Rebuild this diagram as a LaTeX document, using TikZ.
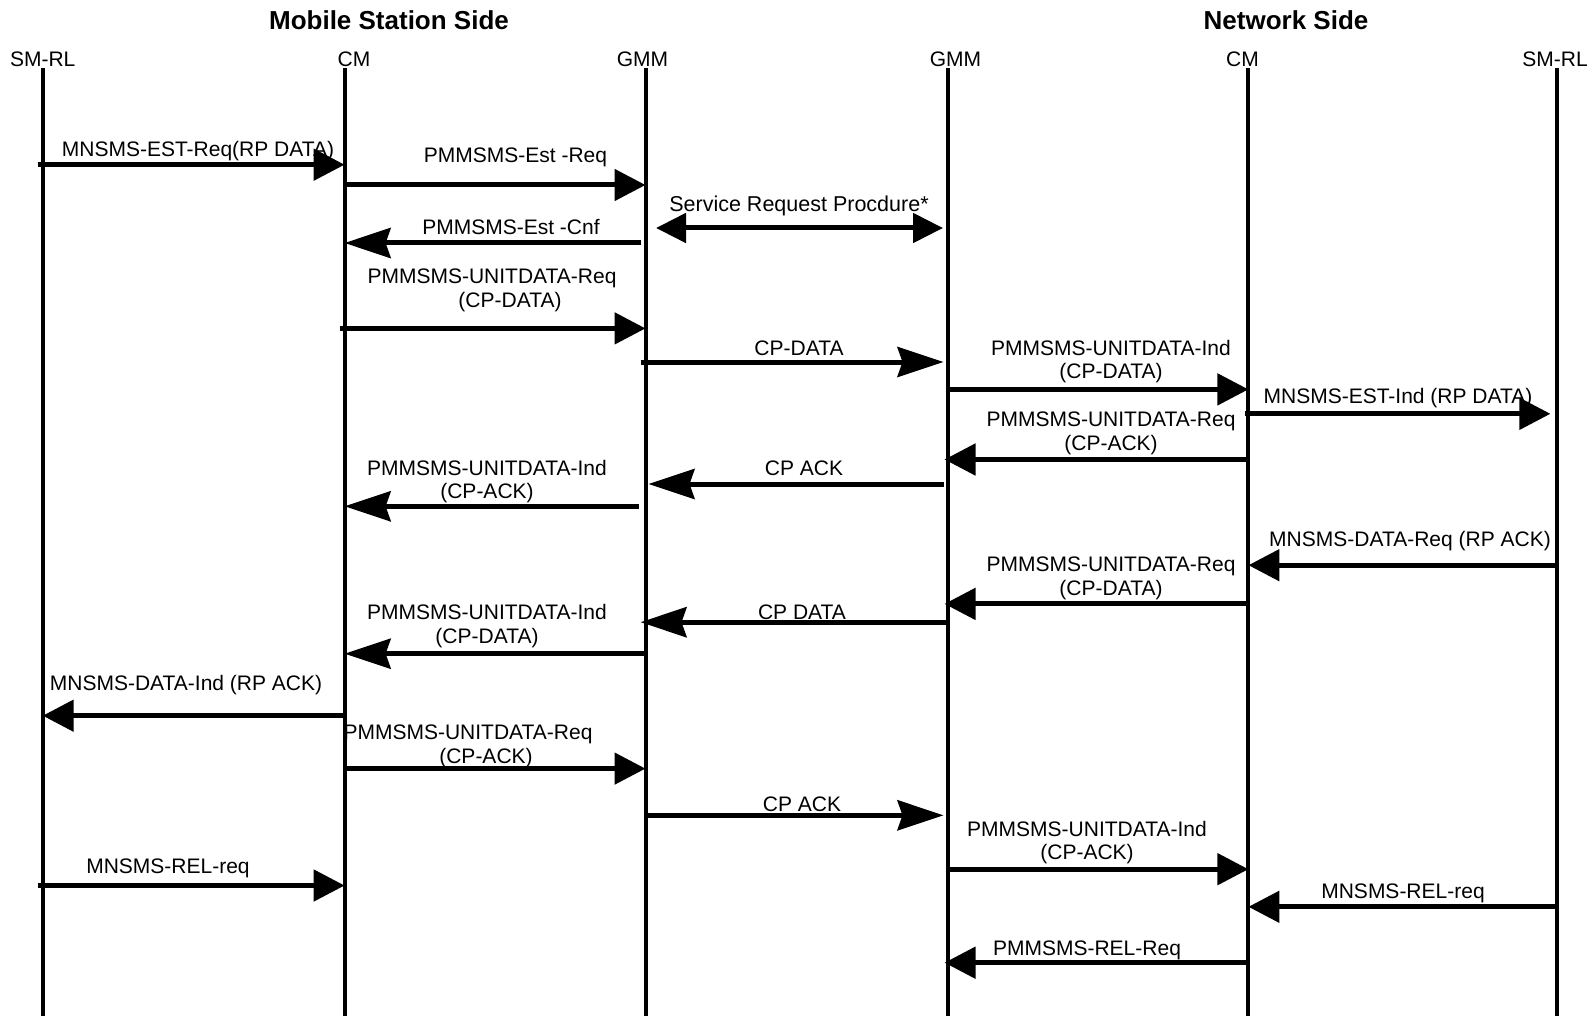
\documentclass[tikz,border=0pt]{standalone}
\usepackage{fontspec}
\setmainfont{Liberation Sans}
\usetikzlibrary{arrows.meta}
\begin{document}
\begin{tikzpicture}[x=1pt,y=-1pt,
  lifeline/.style={line width=4pt},
  msg/.style={line width=5pt,-{Triangle[length=31pt,width=31pt]}},
  msglong/.style={line width=5pt,-{Stealth[length=46pt,width=30pt,inset=5pt]}},
  msgboth/.style={line width=5pt,{Triangle[length=30pt,width=29pt]}-{Triangle[length=30pt,width=29pt]}},
  lbl/.style={font=\fontsize{21}{23}\selectfont,inner sep=0pt,anchor=base},
  headlbl/.style={font=\fontsize{21}{23}\selectfont,inner sep=0pt,anchor=base},
  titlelbl/.style={font=\fontsize{26}{28}\selectfont\bfseries,inner sep=0pt,anchor=base}]
\useasboundingbox (0,0) rectangle (1594,1016);
% titles
\node[titlelbl] (tms) at (389,29.6) {Mobile Station Side};
\node[titlelbl] (tnw) at (1286,29.6) {Network Side};
% lifeline coordinates
\coordinate (l1) at (42.7,0);
\coordinate (l2) at (344.6,0);
\coordinate (l3) at (645.5,0);
\coordinate (l4) at (947.5,0);
\coordinate (l5) at (1248.4,0);
\coordinate (l6) at (1557.4,0);
% heads
\node[headlbl] (h1) at (42.7,66.5) {SM-RL};
\node[headlbl] (h2) at (354,66.5) {CM};
\node[headlbl] (h3) at (642.5,66.5) {GMM};
\node[headlbl] (h4) at (955.5,66.5) {GMM};
\node[headlbl] (h5) at (1242.5,66.5) {CM};
\node[headlbl] (h6) at (1555,66.5) {SM-RL};
% lifelines
\foreach \l in {l1,l2,l3,l4,l5,l6}{
  \draw[lifeline] (\l |- 0,68) -- (\l |- 0,1016);
}
% 1
\draw[msg] ([xshift=-5pt]l1 |- 0,164.7) -- (l2 |- 0,164.7);
\node[lbl] (m1) at (198,156.5) {MNSMS-EST-Req(RP DATA)};
% 2
\draw[msg] (l2 |- 0,185) -- (l3 |- 0,185);
\node[lbl] (m2) at (515.5,163) {PMMSMS-Est -Req};
% 3
\draw[msgboth] ([xshift=10.5pt]l3 |- 0,228) -- ([xshift=-4.5pt]l4 |- 0,228);
\node[lbl,font=\fontsize{21.5}{24}\selectfont] (m3) at (799,211.5) {Service Request Procdure*};
% 4
\draw[msglong] ([xshift=-5pt]l3 |- 0,243) -- (l2 |- 0,243);
\node[lbl] (m4) at (511,234.5) {PMMSMS-Est -Cnf};
% 5
\draw[msg] ([xshift=-5pt]l2 |- 0,328.4) -- (l3 |- 0,328.4);
\node[lbl] (m5a) at (492,283) {PMMSMS-UNITDATA-Req};
\node[lbl] (m5b) at (510,307.5) {(CP-DATA)};
% 6
\draw[msglong] ([xshift=-5pt]l3 |- 0,362) -- ([xshift=-4pt]l4 |- 0,362);
\node[lbl] (m6) at (799,355.2) {CP-DATA};
% 7
\draw[msg] (l4 |- 0,389.4) -- (l5 |- 0,389.4);
\node[lbl] (m7a) at (1111,355.2) {PMMSMS-UNITDATA-Ind};
\node[lbl] (m7b) at (1111,378.5) {(CP-DATA)};
% 8
\draw[msg] ([xshift=-3pt]l5 |- 0,413.8) -- ([xshift=-7pt]l6 |- 0,413.8);
\node[lbl] (m8) at (1398,403) {MNSMS-EST-Ind (RP DATA)};
% 9
\draw[msg] (l5 |- 0,459.5) -- ([xshift=-3pt]l4 |- 0,459.5);
\node[lbl] (m9a) at (1111,426.3) {PMMSMS-UNITDATA-Req};
\node[lbl] (m9b) at (1111,450.7) {(CP-ACK)};
% 10
\draw[msglong] ([xshift=-4pt]l4 |- 0,484) -- ([xshift=3pt]l3 |- 0,484);
\node[lbl] (m10) at (804,475.1) {CP ACK};
% 11
\draw[msglong] ([xshift=-7pt]l3 |- 0,506.3) -- (l2 |- 0,506.3);
\node[lbl] (m11a) at (487,475.1) {PMMSMS-UNITDATA-Ind};
\node[lbl] (m11b) at (487,498.5) {(CP-ACK)};
% 12
\draw[msg] (l6 |- 0,565.2) -- (l5 |- 0,565.2);
\node[lbl] (m12) at (1410,546.3) {MNSMS-DATA-Req (RP ACK)};
% 13
\draw[msg] (l5 |- 0,603.9) -- ([xshift=-3pt]l4 |- 0,603.9);
\node[lbl] (m13a) at (1111,571.7) {PMMSMS-UNITDATA-Req};
\node[lbl] (m13b) at (1111,595.1) {(CP-DATA)};
% 14
\draw[msglong] (l4 |- 0,622.2) -- ([xshift=-5pt]l3 |- 0,622.2);
\node[lbl] (m14) at (802,619.5) {CP DATA};
% 15
\draw[msglong] ([xshift=-2pt]l3 |- 0,653.7) -- (l2 |- 0,653.7);
\node[lbl] (m15a) at (487,619.5) {PMMSMS-UNITDATA-Ind};
\node[lbl] (m15b) at (487,643.9) {(CP-DATA)};
% 16
\draw[msg] (l2 |- 0,715.7) -- (l1 |- 0,715.7);
\node[lbl] (m16) at (186,690.7) {MNSMS-DATA-Ind (RP ACK)};
% 17
\draw[msg] (l2 |- 0,768.6) -- (l3 |- 0,768.6);
\node[lbl] (m17a) at (468,739.5) {PMMSMS-UNITDATA-Req};
\node[lbl] (m17b) at (486,763.8) {(CP-ACK)};
% 18
\draw[msglong] (l3 |- 0,815.3) -- ([xshift=-4pt]l4 |- 0,815.3);
\node[lbl] (m18) at (802,811.6) {CP ACK};
% 19
\draw[msg] (l4 |- 0,869.2) -- (l5 |- 0,869.2);
\node[lbl] (m19a) at (1087,836) {PMMSMS-UNITDATA-Ind};
\node[lbl] (m19b) at (1087,859.5) {(CP-ACK)};
% 20
\draw[msg] ([xshift=-5pt]l1 |- 0,885.5) -- (l2 |- 0,885.5);
\node[lbl] (m20) at (168,873.5) {MNSMS-REL-req};
% 21
\draw[msg] (l6 |- 0,906.8) -- (l5 |- 0,906.8);
\node[lbl] (m21) at (1403,898) {MNSMS-REL-req};
% 22
\draw[msg] (l5 |- 0,962.7) -- ([xshift=-3pt]l4 |- 0,962.7);
\node[lbl] (m22) at (1087,955) {PMMSMS-REL-Req};
\end{tikzpicture}
\end{document}
